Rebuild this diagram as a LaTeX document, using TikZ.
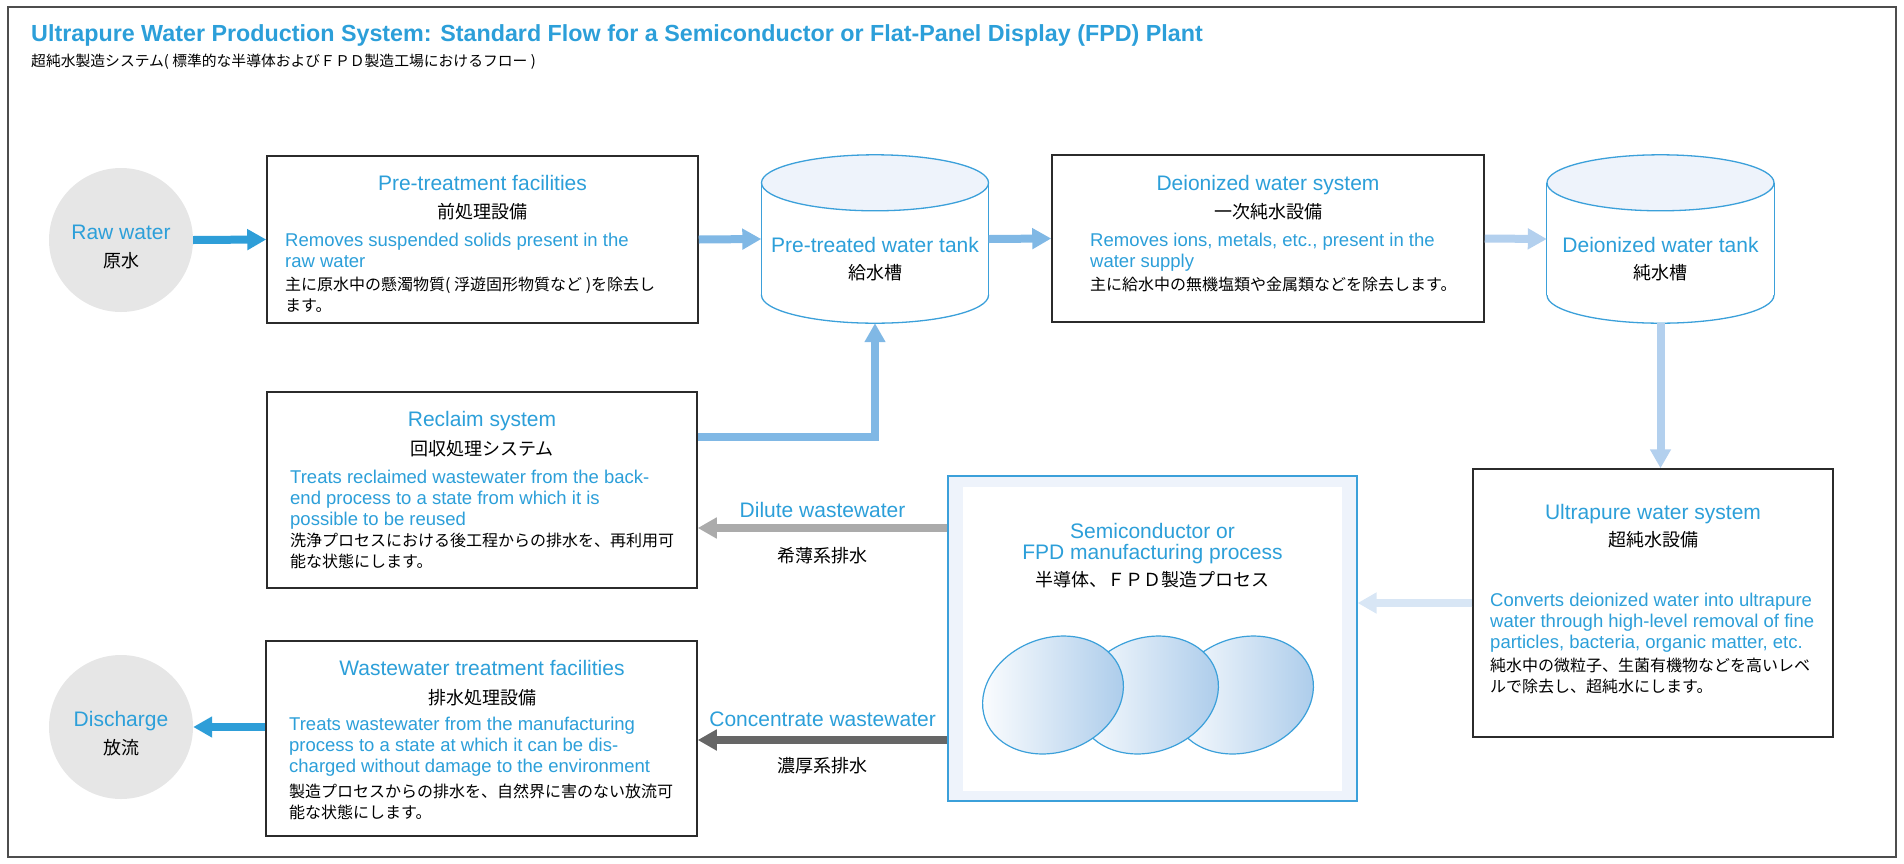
\documentclass[tikz,border=0pt]{standalone}
\usepackage{fontspec}
\setmainfont{Liberation Sans}
\newfontfamily\jp{Noto Sans CJK JP}
\usetikzlibrary{arrows.meta,calc,shapes.geometric}

\definecolor{textblue}{HTML}{2C9FD9}
\definecolor{flowblue}{HTML}{2E9ED8}
\definecolor{midblue}{HTML}{80B8E5}
\definecolor{paleblue}{HTML}{B3D0EE}
\definecolor{faintblue}{HTML}{D8E6F5}
\definecolor{tankline}{HTML}{3BA0DA}
\definecolor{tanktop}{HTML}{EEF3FB}
\definecolor{wafershade}{HTML}{A9CAEA}
\definecolor{circlegray}{HTML}{E6E6E6}
\definecolor{boxline}{HTML}{2B2B2B}
\definecolor{framegray}{HTML}{4D4D4D}
\definecolor{dilutegray}{HTML}{ABABAB}
\definecolor{concgray}{HTML}{666666}

\tikzset{
  unitbox/.style={draw=boxline, line width=1.5pt, fill=white, inner sep=0},
  drop/.style={circle, fill=circlegray, minimum size=144pt, inner sep=0},
  tank/.style={minimum width=227pt, minimum height=168pt, inner sep=0},
  tankdraw/.style={draw=tankline, line width=1.3pt},
  wafer/.style={ellipse, draw=tankline, line width=1.2pt, left color=white,
    right color=wafershade, minimum width=144pt, minimum height=114pt,
    inner sep=0, rotate=20},
  entitle/.style={text=textblue, font=\fontsize{21}{24}\selectfont, anchor=base, inner sep=0},
  jptitle/.style={text=black, font=\jp\fontsize{18}{21}\selectfont, anchor=base, inner sep=0},
  % base of a block = baseline of its last line
  enbody/.style={text=textblue, font=\fontsize{18.5}{21}\selectfont, align=left,
    anchor=base west, inner sep=0},
  jpbody/.style={text=black, font=\jp\fontsize{16}{21}\selectfont, align=left,
    anchor=base west, inner sep=0},
  flow/.style={line width=8pt, -{Triangle[length=19pt,width=20pt]}},
}

\begin{document}
\begin{tikzpicture}[x=1pt, y=-1pt]
  \useasboundingbox (0,0) rectangle (1904,863);
  \draw[framegray, line width=2.5pt] (8,7) rectangle (1896,857);

  % heading
  \node[anchor=base west, inner sep=0, text=textblue, font=\bfseries\fontsize{23.3}{26}\selectfont]
    (head) at (31,41) {Ultrapure Water Production System: Standard Flow for a Semiconductor or Flat-Panel Display (FPD) Plant};
  \node[anchor=base west, inner sep=0, font=\jp\fontsize{14.8}{18}\selectfont]
    (headjp) at (31,66) {超純水製造システム( 標準的な半導体およびＦＰＤ製造工場におけるフロー )};

  % raw water and discharge
  \node[drop] (raw) at (121,240) {};
  \node[entitle] (rawen) at (121,239.5) {Raw water};
  \node[jptitle] (rawjp) at (121,267) {原水};
  \node[drop] (dis) at (121,727) {};
  \node[entitle] (disen) at (121,726.5) {Discharge};
  \node[jptitle] (disjp) at (121,754) {放流};

  % pre-treatment
  \node[unitbox, minimum width=431pt, minimum height=167pt] (pre) at (482.5,239.5) {};
  \node[entitle] (preen) at (482.5,190.5) {Pre-treatment facilities};
  \node[jptitle] (prejp) at (482.5,218) {前処理設備};
  \node[enbody] (pretxt) at (285,267.5) {Removes suspended solids present in the\\raw water};
  \node[jpbody] (pretxtjp) at (285,311) {主に原水中の懸濁物質( 浮遊固形物質など )を除去し\\ます。};

  % tanks
  \node[tank] (pretank) at (875,239) {};
  \node[tank] (ditank) at (1660.5,239) {};
  \foreach \t in {pretank,ditank}{
    \draw[tankdraw, fill=white] ($(\t.south)+(0,-28)$) ellipse [x radius=113.5, y radius=28];
    \fill[white] ($(\t.north west)+(0,28)$) rectangle ($(\t.south east)+(0,-28)$);
    \draw[tankdraw] ($(\t.north west)+(0,28)$) -- ($(\t.south west)+(0,-28)$)
                    ($(\t.north east)+(0,28)$) -- ($(\t.south east)+(0,-28)$);
    \draw[tankdraw, fill=tanktop] ($(\t.north)+(0,28)$) ellipse [x radius=113.5, y radius=28];
  }
  \node[entitle] (pretanken) at (875,252.5) {Pre-treated water tank};
  \node[jptitle] (pretankjp) at (875,279) {給水槽};
  \node[entitle] (ditanken) at (1660.5,252.5) {Deionized water tank};
  \node[jptitle] (ditankjp) at (1660.5,279) {純水槽};

  % deionized water system
  \node[unitbox, minimum width=432pt, minimum height=167pt] (di) at (1268,238.5) {};
  \node[entitle] (dien) at (1268,190.5) {Deionized water system};
  \node[jptitle] (dijp) at (1268,218) {一次純水設備};
  \node[enbody] (ditxt) at (1090,267.5) {Removes ions, metals, etc., present in the\\water supply};
  \node[jpbody] (ditxtjp) at (1090,290) {主に給水中の無機塩類や金属類などを除去します。};

  % ultrapure water system
  \node[unitbox, minimum width=360pt, minimum height=268pt] (upw) at (1653,603) {};
  \node[entitle] (upwen) at (1653,519.5) {Ultrapure water system};
  \node[jptitle] (upwjp) at (1653,546) {超純水設備};
  \node[enbody] (upwtxt) at (1490,648.5) {Converts deionized water into ultrapure\\water through high-level removal of fine\\particles, bacteria, organic matter, etc.};
  \node[jpbody] (upwtxtjp) at (1490,692) {純水中の微粒子、生菌有機物などを高いレベ\\ルで除去し、超純水にします。};

  % manufacturing process
  \node[draw=tankline, fill=tanktop, line width=1.2pt, minimum width=409pt, minimum height=325pt] (proc) at (1152.5,638.5) {};
  \node[fill=white, minimum width=379pt, minimum height=304pt, inner sep=0] (procin) at (1152.5,639) {};
  \node[entitle] (procen1) at (1152.5,538.5) {Semiconductor or};
  \node[entitle] (procen2) at (1152.5,559.5) {FPD manufacturing process};
  \node[jptitle] (procjp) at (1152.5,586) {半導体、ＦＰＤ製造プロセス};
  \node[wafer] (w3) at (1243,695) {};
  \node[wafer] (w2) at (1148,695) {};
  \node[wafer] (w1) at (1053,695) {};

  % reclaim system
  \node[unitbox, minimum width=430pt, minimum height=196pt] (reclaim) at (482,490) {};
  \node[entitle] (reclaimen) at (482,426.5) {Reclaim system};
  \node[jptitle] (reclaimjp) at (482,455) {回収処理システム};
  \node[enbody] (reclaimtxt) at (290,525.5) {Treats reclaimed wastewater from the back-\\end process to a state from which it is\\possible to be reused};
  \node[jpbody] (reclaimtxtjp) at (290,567) {洗浄プロセスにおける後工程からの排水を、再利用可\\能な状態にします。};

  % wastewater treatment
  \node[unitbox, minimum width=431pt, minimum height=195pt] (wwt) at (481.5,738.5) {};
  \node[entitle] (wwten) at (482,675.5) {Wastewater treatment facilities};
  \node[jptitle] (wwtjp) at (482,704) {排水処理設備};
  \node[enbody] (wwttxt) at (289,772.5) {Treats wastewater from the manufacturing\\process to a state at which it can be dis-\\charged without damage to the environment};
  \node[jpbody] (wwttxtjp) at (289,818) {製造プロセスからの排水を、自然界に害のない放流可\\能な状態にします。};

  % flows
  \draw[flow, flowblue] (raw.east) -- (pre.west);
  \draw[flow, midblue] (pre.east) -- (pretank.west);
  \draw[flow, midblue] (pretank.east) -- (di.west);
  \draw[flow, paleblue] (di.east) -- (ditank.west);
  \draw[flow, paleblue] (ditank.south) -- (ditank.south |- upw.north);
  \draw[flow, faintblue] (upw.west) -- (upw.west -| proc.east);
  \draw[flow, midblue] (reclaim.north east) ++(0,46) -| (pretank.south);
  \coordinate (dilute) at (0,528);
  \coordinate (conc) at (0,740);
  \draw[flow, dilutegray] (proc.west |- dilute) -- (reclaim.east |- dilute)
    node[entitle, midway, yshift=10.5pt] (diluteen) {Dilute wastewater}
    node[jptitle, midway, yshift=-34pt] (dilutejp) {希薄系排水};
  \draw[flow, concgray] (proc.west |- conc) -- (wwt.east |- conc)
    node[entitle, midway, yshift=13.5pt] (concen) {Concentrate wastewater}
    node[jptitle, midway, yshift=-32pt] (concjp) {濃厚系排水};
  \draw[flow, flowblue] (dis.east -| wwt.west) -- (dis.east);
\end{tikzpicture}
\end{document}
